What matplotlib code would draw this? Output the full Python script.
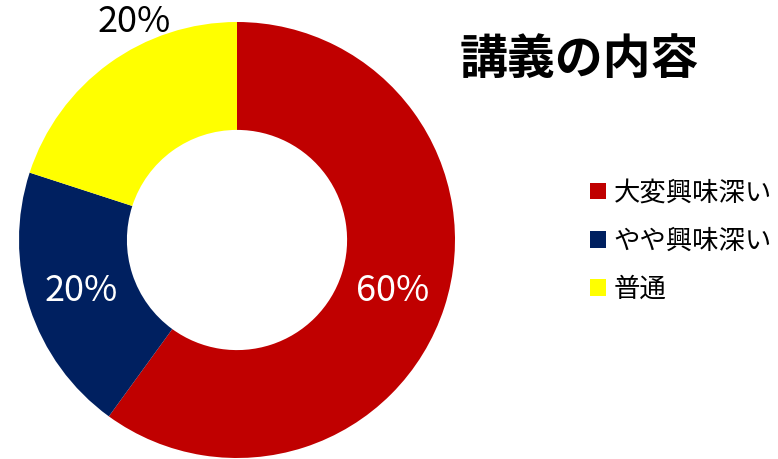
import matplotlib
matplotlib.use("Agg")
import matplotlib.pyplot as plt

plt.rcParams['font.family'] = ['Noto Sans CJK JP', 'DejaVu Sans']

title = "講義の内容"
categories = ["大変興味深い", "やや興味深い", "普通"]
values = [60, 20, 20]
colors = ["#C00000", "#002060", "#FFFF00"]
label_colors = ["white", "white", "black"]

W, H = 778, 459
fig = plt.figure(figsize=(W / 100, H / 100), dpi=100)
cx, cy, R = 237, 240, 218
ax = fig.add_axes([(cx - R) / W, (H - cy - R) / H, 2 * R / W, 2 * R / H])

wedges, texts, autotexts = ax.pie(
    values, colors=colors, startangle=90, counterclock=False, radius=1,
    wedgeprops=dict(width=0.495, edgecolor='none'),
    autopct=lambda p: f"{p:.0f}%", pctdistance=0.75,
    textprops=dict(fontsize=26))
ax.set_xlim(-1, 1)
ax.set_ylim(-1, 1)
ax.set_aspect('equal')
ax.axis('off')
for t, c in zip(autotexts, label_colors):
    t.set_color(c)
    t.set_clip_on(False)
# third label placed above the ring as in the reference
autotexts[2].set_position((-0.47, 1.0))

fig.text(579 / W, 1 - 60 / H, title, fontsize=34.5, fontweight='bold',
         ha='center', va='center')

fig.legend(wedges, categories, loc='center left',
           bbox_to_anchor=(590 / W, 1 - 241 / H), frameon=False,
           borderaxespad=0, borderpad=0,
           fontsize=19, handlelength=0.6, handleheight=0.6,
           handletextpad=0.3, labelspacing=0.8)

fig.savefig("out.png", dpi=100)
